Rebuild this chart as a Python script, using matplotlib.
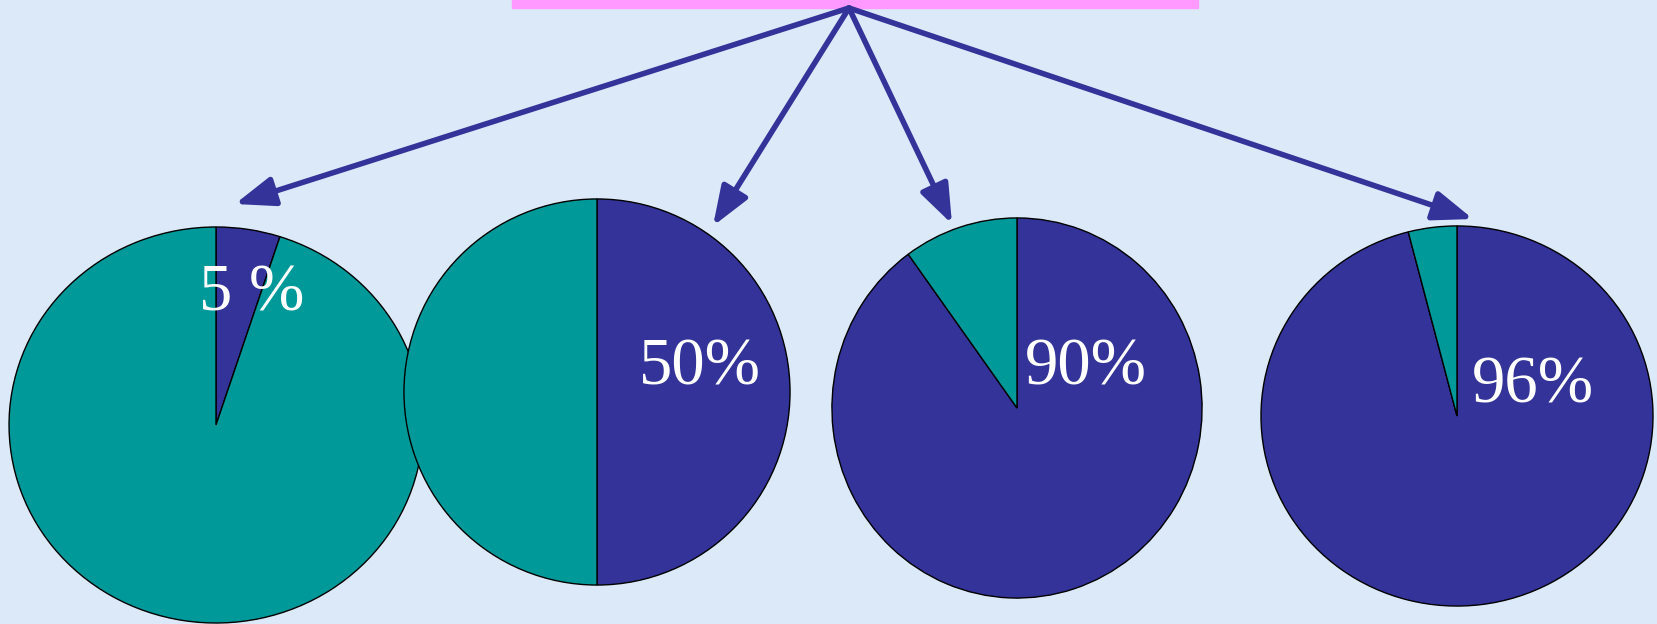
import matplotlib.pyplot as plt

# data
labels = ['5 %', '50%', '90%', '96%']
share = [5, 50, 90, 96]

purple = '#333399'
teal = '#009999'
W, H = 1658, 624

fig = plt.figure(figsize=(W / 100, H / 100), dpi=100)
fig.patch.set_facecolor('#dce9f8')
bg = fig.add_axes([0, 0, 1, 1])
bg.set_xlim(0, W)
bg.set_ylim(H, 0)
bg.axis('off')

# pink bar on top
bg.add_patch(plt.Rectangle((512, 0), 686, 8, color='#ff99ff', zorder=2))

# arrows from the bar to each pie
origin = (849, 8)
tips = [(235, 204), (713, 226), (952, 224), (1473, 219)]
for tx, ty in tips:
    bg.annotate('', xy=(tx, ty), xytext=origin,
                arrowprops=dict(arrowstyle='-|>,head_length=2.4,head_width=0.9',
                                color=purple, lw=4, shrinkA=0, shrinkB=0))

# pie boxes in pixels: center x, center y, radius x, radius y
boxes = [(216, 425, 208, 199), (597, 392, 194, 194),
         (1017, 408, 186, 191), (1457, 416, 197, 191)]
label_pos = [(252, 294), (700, 368), (1086, 368), (1533, 386)]

for i, (cx, cy, rx, ry) in enumerate(boxes):
    ax = fig.add_axes([(cx - rx) / W, 1 - (cy + ry) / H, 2 * rx / W, 2 * ry / H],
                      zorder=3 + i)
    ax.pie([share[i], 100 - share[i]], colors=[purple, teal], startangle=90,
           counterclock=False, radius=1,
           wedgeprops=dict(edgecolor='black', linewidth=1.0))
    ax.set_aspect('auto')
    ax.set_xlim(-1.005, 1.005)
    ax.set_ylim(-1.005, 1.005)
    ax.patch.set_alpha(0)
    lx, ly = label_pos[i]
    fig.text(lx / W, 1 - ly / H, labels[i], color='white', fontsize=48,
             family='Liberation Serif', ha='center', va='center', zorder=20)

fig.savefig('out.png', dpi=100, facecolor=fig.get_facecolor())
